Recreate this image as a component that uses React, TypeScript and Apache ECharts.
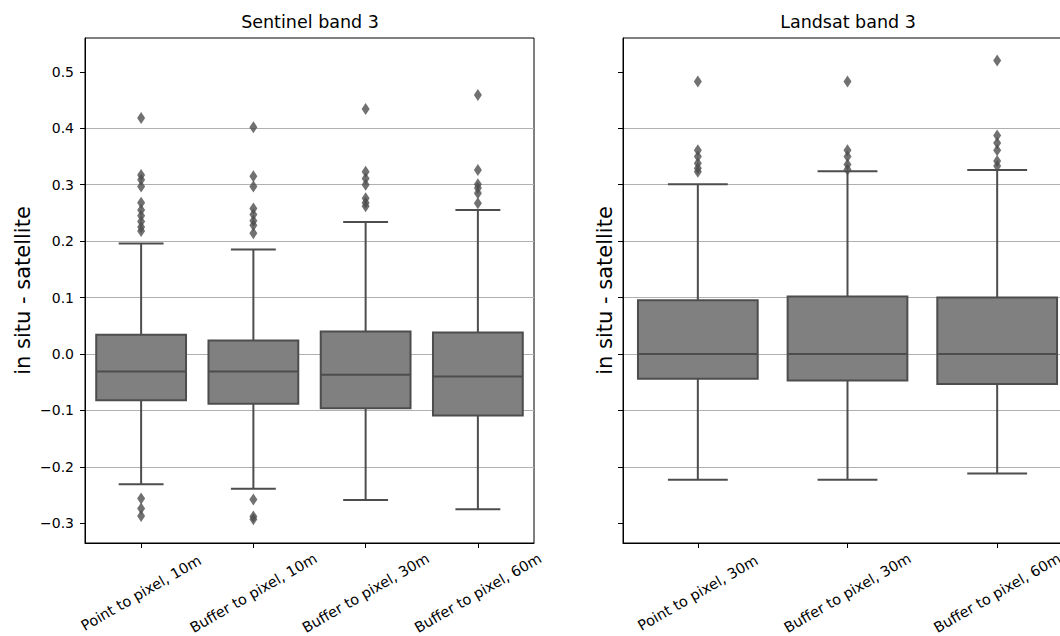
import React, { useEffect, useRef } from 'react';
import * as echarts from 'echarts';

const sentinelCategories = ['Point to pixel, 10m', 'Buffer to pixel, 10m', 'Buffer to pixel, 30m', 'Buffer to pixel, 60m'];
const landsatCategories = ['Point to pixel, 30m', 'Buffer to pixel, 30m', 'Buffer to pixel, 60m'];

// [lower whisker, Q1, median, Q3, upper whisker]
const sentinelBoxes = [
  [-0.231, -0.082, -0.031, 0.034, 0.196],
  [-0.239, -0.088, -0.031, 0.024, 0.185],
  [-0.259, -0.096, -0.037, 0.040, 0.234],
  [-0.275, -0.109, -0.040, 0.038, 0.255],
];
const landsatBoxes = [
  [-0.223, -0.044, 0.0, 0.095, 0.301],
  [-0.223, -0.047, 0.0, 0.102, 0.324],
  [-0.212, -0.053, 0.0, 0.100, 0.326],
];

const sentinelOutliers = [
  [0.418, 0.317, 0.309, 0.297, 0.268, 0.255, 0.245, 0.235, 0.225, 0.218, -0.256, -0.274, -0.287],
  [0.402, 0.315, 0.297, 0.258, 0.247, 0.236, 0.228, 0.214, -0.258, -0.288, -0.293],
  [0.434, 0.323, 0.311, 0.300, 0.276, 0.268, 0.262],
  [0.459, 0.326, 0.301, 0.294, 0.285, 0.267],
];
const landsatOutliers = [
  [0.483, 0.361, 0.350, 0.338, 0.329, 0.323],
  [0.483, 0.361, 0.350, 0.336, 0.327],
  [0.520, 0.387, 0.374, 0.361, 0.342, 0.333],
];

const yTicks = [-0.3, -0.2, -0.1, 0.0, 0.1, 0.2, 0.3, 0.4, 0.5];
const yMin = -0.335;
const yMax = 0.56;
const yLabel = 'in situ - satellite';
const titles = ['Sentinel band 3', 'Landsat band 3'];

const FONT = 'DejaVu Sans';
const BOX_FILL = '#808080';
const LINE = '#4d4d4d';

function renderBox(params: any, api: any) {
  const x = api.value(0);
  const lo = api.coord([x, api.value(1)]);
  const q1 = api.coord([x, api.value(2)]);
  const med = api.coord([x, api.value(3)]);
  const q3 = api.coord([x, api.value(4)]);
  const hi = api.coord([x, api.value(5)]);
  const band = api.size([1, 0])[0];
  const bw = band * 0.8;
  const cw = bw / 2;
  const cx = med[0];
  const ls = { stroke: LINE, lineWidth: 2, fill: null };
  return {
    type: 'group',
    children: [
      { type: 'line', shape: { x1: cx, y1: q3[1], x2: cx, y2: hi[1] }, style: ls },
      { type: 'line', shape: { x1: cx, y1: q1[1], x2: cx, y2: lo[1] }, style: ls },
      { type: 'line', shape: { x1: cx - cw / 2, y1: hi[1], x2: cx + cw / 2, y2: hi[1] }, style: ls },
      { type: 'line', shape: { x1: cx - cw / 2, y1: lo[1], x2: cx + cw / 2, y2: lo[1] }, style: ls },
      {
        type: 'rect',
        shape: { x: cx - bw / 2, y: q3[1], width: bw, height: q1[1] - q3[1] },
        style: { fill: BOX_FILL, stroke: LINE, lineWidth: 2 },
      },
      { type: 'line', shape: { x1: cx - bw / 2, y1: med[1], x2: cx + bw / 2, y2: med[1] }, style: ls },
    ],
  };
}

function fmt(v: number) {
  if (Math.abs(v * 10 - Math.round(v * 10)) > 1e-6) return '';
  const s = v.toFixed(1);
  return s.startsWith('-') ? '\u2212' + s.slice(1) : s;
}

function makeXAxis(cats: string[], gridIndex: number) {
  return {
    type: 'category',
    gridIndex,
    data: cats,
    boundaryGap: true,
    axisLine: { show: true, onZero: false, lineStyle: { color: '#000', width: 1 } },
    axisTick: { show: true, alignWithLabel: true, length: 5, lineStyle: { color: '#000', width: 1 } },
    axisLabel: {
      interval: 0,
      rotate: 30,
      align: 'center',
      verticalAlign: 'middle',
      margin: 50,
      fontFamily: FONT,
      fontSize: 14.5,
      color: '#000',
      hideOverlap: false,
    },
    splitLine: { show: false },
  };
}

function makeYAxis(gridIndex: number, showLabels: boolean, nameGap: number) {
  return {
    type: 'value',
    gridIndex,
    min: yMin,
    max: yMax,
    splitNumber: 9,
    name: yLabel,
    nameLocation: 'middle',
    nameGap,
    nameRotate: 90,
    nameTextStyle: { fontFamily: FONT, fontSize: 21, color: '#000' },
    axisLine: { show: true, onZero: false, lineStyle: { color: '#000', width: 1 } },
    axisTick: { show: true, length: 5, customValues: yTicks, lineStyle: { color: '#000', width: 1 } },
    axisLabel: {
      show: showLabels,
      margin: 11,
      fontFamily: FONT,
      fontSize: 14,
      color: '#000',
      customValues: yTicks,
      formatter: (v: number) => fmt(v),
    },
    splitLine: { show: true, showMinLine: false, showMaxLine: false, lineStyle: { color: '#b0b0b0', width: 1 } },
  };
}

export default function App() {
  const ref = useRef<HTMLDivElement>(null);
  useEffect(() => {
    if (!ref.current) return;
    const chart = echarts.init(ref.current, null, { renderer: 'svg' });
    const outlierStyle = { color: LINE };
    const titleStyle = { fontFamily: FONT, fontSize: 17.5, fontWeight: 'normal', color: '#000' };
    chart.setOption({
      animation: false,
      backgroundColor: '#fff',
      title: [
        { text: titles[0], left: 310, top: 13, padding: 0, textAlign: 'center', textStyle: titleStyle },
        { text: titles[1], left: 848, top: 13, padding: 0, textAlign: 'center', textStyle: titleStyle },
      ],
      grid: [
        { left: 85, width: 449, top: 38, bottom: 93, containLabel: false, outerBoundsMode: 'none', show: true, borderColor: '#000', borderWidth: 1, backgroundColor: 'transparent' },
        { left: 623, width: 449, top: 38, bottom: 93, containLabel: false, outerBoundsMode: 'none', show: true, borderColor: '#000', borderWidth: 1, backgroundColor: 'transparent' },
      ],
      xAxis: [makeXAxis(sentinelCategories, 0), makeXAxis(landsatCategories, 1)],
      yAxis: [makeYAxis(0, true, 52), makeYAxis(1, false, 8)],
      series: [
        {
          type: 'custom',
          xAxisIndex: 0,
          yAxisIndex: 0,
          renderItem: renderBox,
          encode: { x: 0, y: [1, 2, 3, 4, 5] },
          data: sentinelBoxes.map((b, i) => [i, ...b]),
          z: 2,
        },
        {
          type: 'custom',
          xAxisIndex: 1,
          yAxisIndex: 1,
          renderItem: renderBox,
          encode: { x: 0, y: [1, 2, 3, 4, 5] },
          data: landsatBoxes.map((b, i) => [i, ...b]),
          z: 2,
        },
        {
          type: 'scatter',
          xAxisIndex: 0,
          yAxisIndex: 0,
          symbol: 'diamond',
          symbolSize: [8, 12],
          itemStyle: outlierStyle,
          data: sentinelOutliers.flatMap((arr, i) => arr.map((v) => [i, v])),
          z: 3,
        },
        {
          type: 'scatter',
          xAxisIndex: 1,
          yAxisIndex: 1,
          symbol: 'diamond',
          symbolSize: [8, 12],
          itemStyle: outlierStyle,
          data: landsatOutliers.flatMap((arr, i) => arr.map((v) => [i, v])),
          z: 3,
        },
      ],
    });
    return () => chart.dispose();
  }, []);
  return <div ref={ref} style={{ position: 'absolute', left: 0, top: 0, width: 1060, height: 636 }} />;
}
